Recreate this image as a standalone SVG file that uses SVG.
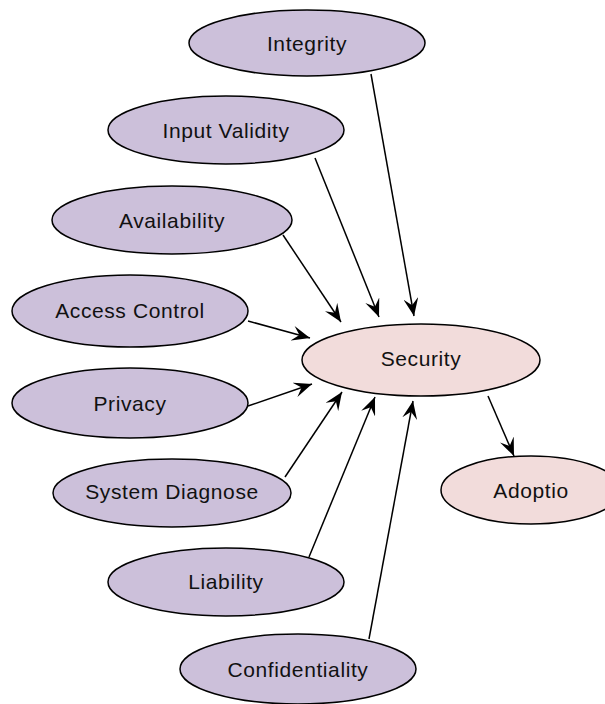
<svg xmlns="http://www.w3.org/2000/svg" width="605" height="704" viewBox="0 0 605 704">
  <style>
    .n ellipse { stroke: #000; stroke-width: 1.5; }
    .factor ellipse { fill: #ccc0da; }
    .goal ellipse { fill: #f2dcdb; }
    .n text { font-family: "Liberation Sans", Arial, sans-serif; font-size: 21px; letter-spacing: 0.6px; fill: #111; text-anchor: middle; }
    #edges line { stroke: #000; stroke-width: 1.5; marker-end: url(#vee); }
  </style>
  <defs>
    <marker id="vee" markerUnits="userSpaceOnUse" markerWidth="19" markerHeight="15" viewBox="0 0 19 15" refX="18" refY="7.5" orient="auto">
      <path d="M18,7.5 L0,0 L7,7.5 L0,15 Z" fill="#000"/>
    </marker>
  </defs>

  <rect width="605" height="704" fill="#fff"/>

  <!-- connectors -->
  <g id="edges">
    <line x1="371" y1="74" x2="414" y2="316"/>
    <line x1="315" y1="158" x2="379" y2="317"/>
    <line x1="283" y1="235" x2="341" y2="322"/>
    <line x1="248" y1="321" x2="310" y2="338"/>
    <line x1="248" y1="406" x2="312" y2="384"/>
    <line x1="285" y1="477" x2="342" y2="392"/>
    <line x1="309" y1="557" x2="375" y2="397"/>
    <line x1="369" y1="639" x2="413" y2="401"/>
    <line x1="488" y1="396" x2="514" y2="456"/>
  </g>

  <!-- nodes -->
  <g id="integrity" class="n factor">
    <ellipse cx="307" cy="43" rx="118" ry="33"/>
    <text x="307" y="51">Integrity</text>
  </g>
  <g id="input-validity" class="n factor">
    <ellipse cx="226" cy="130" rx="118" ry="34"/>
    <text x="226" y="138">Input Validity</text>
  </g>
  <g id="availability" class="n factor">
    <ellipse cx="172" cy="220" rx="120" ry="34"/>
    <text x="172" y="228">Availability</text>
  </g>
  <g id="access-control" class="n factor">
    <ellipse cx="130" cy="311" rx="118" ry="36"/>
    <text x="130" y="318">Access Control</text>
  </g>
  <g id="privacy" class="n factor">
    <ellipse cx="130" cy="403" rx="118" ry="35"/>
    <text x="130" y="411">Privacy</text>
  </g>
  <g id="system-diagnose" class="n factor">
    <ellipse cx="172" cy="493" rx="119" ry="34"/>
    <text x="172" y="499">System Diagnose</text>
  </g>
  <g id="liability" class="n factor">
    <ellipse cx="226" cy="582" rx="118" ry="34"/>
    <text x="226" y="589">Liability</text>
  </g>
  <g id="confidentiality" class="n factor">
    <ellipse cx="298" cy="669" rx="118" ry="35"/>
    <text x="298" y="677">Confidentiality</text>
  </g>
  <g id="security" class="n goal">
    <ellipse cx="421" cy="360" rx="119" ry="36"/>
    <text x="421" y="366">Security</text>
  </g>
  <g id="adoption" class="n goal">
    <ellipse cx="531" cy="490" rx="90" ry="34"/>
    <text x="531" y="498">Adoptio</text>
  </g>
</svg>
